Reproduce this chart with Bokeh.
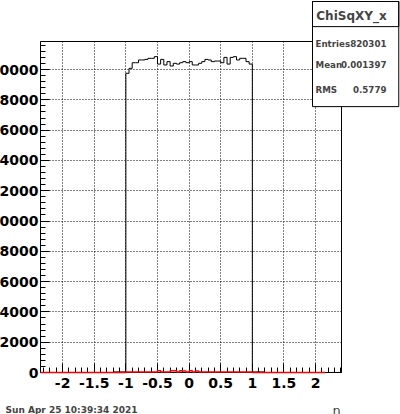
from bokeh.plotting import figure
from bokeh.models import Label, Range1d, SingleIntervalTicker
from bokeh.embed import file_html
from bokeh.resources import INLINE

# ---------------- data ----------------
x_ticks = [-2, -1.5, -1, -0.5, 0, 0.5, 1, 1.5, 2]
x_tick_labels = ["-2", "-1.5", "-1", "-0.5", "0", "0.5", "1", "1.5", "2"]
y_ticks = [0, 2000, 4000, 6000, 8000, 10000, 12000, 14000, 16000, 18000, 20000]
y_tick_labels = ["0", "2000", "4000", "6000", "8000", "10000", "12000", "14000",
                 "16000", "18000", "20000"]

black_x0 = -1.2
black_width = 0.05
black_counts = [40, 40, 40, 40,
                19750, 20080, 20450, 20450, 20630, 20630, 20670, 20740, 20740, 20850,
                20360, 20670, 20300, 20520, 20230, 20410, 20360, 20450, 20520, 20450,
                20520, 20300, 20300, 20410, 20520, 20670, 20630, 20520, 20560, 20560,
                20450, 20800, 20360, 20800, 20850, 20630, 20740, 20740, 20520, 20360,
                40, 40, 40, 40]

red_x0 = -2.35
red_width = 0.05
red_counts = [0, 0, 0, 0, 0, 0, 0, 0, 0, 0,
              0, 0, 0, 0, 0, 0, 0, 0, 0, 0,
              0, 0, 0, 0, 0, 0, 0, 40, 40, 40,
              40, 40, 40, 40, 40, 40, 40, 110, 40, 40,
              40, 120, 120, 40, 120, 100, 40, 120, 40, 100,
              40, 40, 40, 40, 40, 40, 40, 40, 40, 40,
              40, 40, 40, 40, 40, 40, 40, 0, 0, 0,
              0, 0, 0, 0, 0, 0, 0, 0, 0, 0,
              0, 0, 0, 0, 0, 0, 0, 0, 0, 0]

stats_title = "ChiSqXY_x"
stats_names = ["Entries", "Mean", "RMS"]
stats_values = ["820301", "0.001397", "0.5779"]
x_title = "\u03b7"
date_text = "Sun Apr 25 10:39:34 2021"

# ---------------- helpers ----------------
def step_xy(x0, w, counts):
    xs, ys = [x0], [0]
    for i, c in enumerate(counts):
        lo = x0 + i * w
        xs += [lo, lo + w]
        ys += [c, c]
    xs.append(x0 + len(counts) * w)
    ys.append(0)
    return xs, ys

FONT = "DejaVu Sans"
BORDER_L = 1000            # wide left border; the page is shifted so the frame sits at x=40
SHIFT = BORDER_L - 40

def cx(px):                # page x -> canvas x
    return px + SHIFT

U = dict(x_units="canvas", y_units="canvas")

# ---------------- figure ----------------
p = figure(frame_width=301, frame_height=331,
           min_border_left=BORDER_L, min_border_right=59,
           min_border_top=41, min_border_bottom=42,
           x_range=Range1d(-2.35, 2.41), y_range=Range1d(0, 21850),
           output_backend="svg", toolbar_location=None)
p.styles = {"margin-left": f"-{SHIFT}px"}
p.title.visible = False
p.background_fill_color = "white"
p.border_fill_color = "white"
p.outline_line_color = "black"
p.outline_line_width = 1

for ax in (p.xaxis[0], p.yaxis[0]):
    ax.axis_line_color = "black"
    ax.major_tick_in = 9
    ax.major_tick_out = 0
    ax.minor_tick_in = 5
    ax.minor_tick_out = 0
    ax.major_tick_line_color = "black"
    ax.minor_tick_line_color = "black"
    ax.major_label_text_font = FONT
    ax.major_label_text_font_style = "bold"
    ax.major_label_text_font_size = "14px"
    ax.major_label_text_color = "black"

p.xaxis.ticker = SingleIntervalTicker(interval=0.5, num_minor_ticks=5)
p.xaxis.major_label_overrides = {t: l for t, l in zip(x_ticks, x_tick_labels)}
p.xaxis.major_label_standoff = 5

p.yaxis.ticker = SingleIntervalTicker(interval=2000, num_minor_ticks=5)
p.yaxis.major_label_overrides = {t: l for t, l in zip(y_ticks, y_tick_labels)}
p.yaxis.major_label_standoff = 2

for g in (p.xgrid[0], p.ygrid[0]):
    g.grid_line_color = "black"
    g.grid_line_dash = "1 2"
    g.grid_line_width = 1

bx, by = step_xy(black_x0, black_width, black_counts)
rx, ry = step_xy(red_x0, red_width, red_counts)
p.line(bx, by, line_color="black", line_width=1)
p.line(rx, ry, line_color="#ff0000", line_width=1.5, level="overlay")

# ---- texts outside the frame (kept in the left side panel so they are not clipped) ----
# stats box: outer box and title strip
p.add_layout(Label(x=cx(312), y=1, **U, text="\u00a0", text_font_size="1px",
                   text_align="left", text_baseline="top",
                   padding=dict(left=0, right=86, top=0, bottom=104),
                   background_fill_color="white", border_line_color="black",
                   border_line_width=1, level="overlay"), "left")
p.add_layout(Label(x=cx(312), y=1, **U, text="\u00a0", text_font_size="1px",
                   text_align="left", text_baseline="top",
                   padding=dict(left=0, right=86, top=0, bottom=24),
                   border_line_color="black", border_line_width=1,
                   level="overlay"), "left")
p.add_layout(Label(x=cx(351), y=15.5, **U,
                   text=stats_title, text_align="center", text_baseline="middle",
                   text_font=FONT, text_font_style="bold", text_font_size="12px",
                   level="overlay"), "left")
for name, val, py in zip(stats_names, stats_values, [43, 64, 89]):
    p.add_layout(Label(x=cx(315), y=py, **U,
                       text=name, text_align="left", text_baseline="middle",
                       text_font=FONT, text_font_style="bold", text_font_size="8.7px",
                       level="overlay"), "left")
    p.add_layout(Label(x=cx(386), y=py, **U,
                       text=val, text_align="right", text_baseline="middle",
                       text_font=FONT, text_font_style="bold", text_font_size="8.7px",
                       level="overlay"), "left")

# axis title and date
p.add_layout(Label(x=cx(336), y=410, **U,
                   text=x_title, text_align="center", text_baseline="alphabetic",
                   text_font=FONT, text_font_size="13px"), "left")
p.add_layout(Label(x=cx(5), y=409, **U,
                   text=date_text, text_align="left", text_baseline="alphabetic",
                   text_font=FONT, text_font_style="bold", text_font_size="9px"), "left")

open("out.html", "w").write(file_html(p, INLINE))
